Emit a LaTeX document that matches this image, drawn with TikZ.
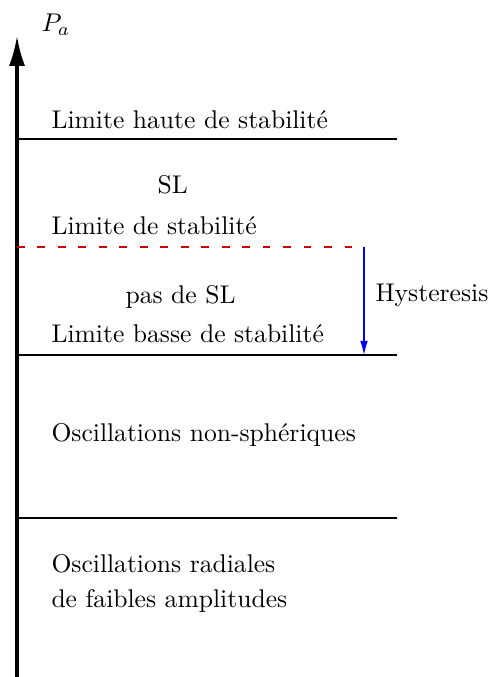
\documentclass[tikz,border=0pt]{standalone}
\usetikzlibrary{arrows.meta}
\begin{document}
\begin{tikzpicture}[x=0.3906pt,y=-0.3906pt,
  lbl/.style={anchor=base west, inner sep=0pt},
  level/.style={line width=0.45pt},
  dashlevel/.style={line width=0.45pt, red!80!black, dash pattern=on 3pt off 5pt}]
\useasboundingbox (0,0) rectangle (490,677);
% axis
\coordinate (axb) at (17,677);
\coordinate (axt) at (17,36);
\draw[line width=1.2pt, -{Latex[length=11.7pt,width=6.3pt]}] (axb) -- (axt);
\node[lbl] (pa) at (41,32) {$P_a$};
% levels
\coordinate (l1a) at (17,139); \coordinate (l1b) at (397,139);
\coordinate (l2a) at (17,247); \coordinate (l2b) at (364,247);
\coordinate (l3a) at (17,355); \coordinate (l3b) at (397,355);
\coordinate (l4a) at (17,518); \coordinate (l4b) at (397,518);
\draw[level] (l1a) -- (l1b);
\draw[dashlevel] (l2a) -- (l2b);
\draw[level] (l3a) -- (l3b);
\draw[level] (l4a) -- (l4b);
% hysteresis
\coordinate (h1) at (364,247);
\coordinate (h2) at (364,355);
\draw[blue, line width=0.45pt, -{Latex[length=5.5pt,width=3pt]}] (h1) -- (h2);
\node[lbl] (hy) at (375,302) {Hysteresis};
% texts
\node[lbl] (t1) at (51,129) {Limite haute de stabilité};
\node[lbl] (t2) at (157,194) {SL};
\node[lbl] (t3) at (51,235) {Limite de stabilité};
\node[lbl] (t4) at (125,304) {pas de SL};
\node[lbl] (t5) at (51,343) {Limite basse de stabilité};
\node[lbl] (t6) at (51,441) {Oscillations non-sphériques};
\node[lbl] (t7) at (51,572) {Oscillations radiales};
\node[lbl] (t8) at (51,607) {de faibles amplitudes};
\end{tikzpicture}
\end{document}
